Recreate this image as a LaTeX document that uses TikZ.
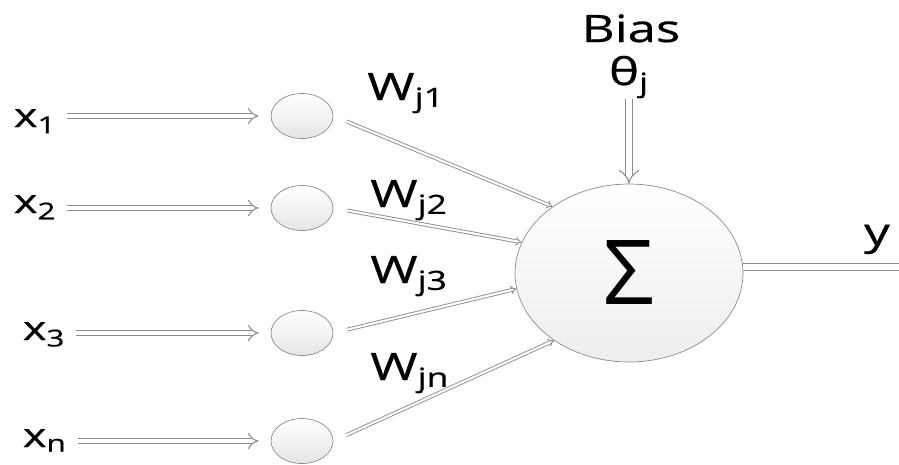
\documentclass[tikz,border=0pt]{standalone}
\usepackage{fontspec}
\setmainfont[FakeStretch=1.35, FakeBold=0.6]{Open Sans}
\newfontfamily\sigmafont{Open Sans}
\usetikzlibrary{arrows.meta, shapes.geometric}
\definecolor{pipeG}{RGB}{140,140,140}

\begin{document}
\begin{tikzpicture}[x=0.02cm, y=-0.02cm,
  inlab/.style={font=\fontsize{19}{22}\selectfont, anchor=base west, inner ysep=0pt, inner xsep=6pt},
  wlab/.style={font=\fontsize{21.5}{24}\selectfont, anchor=base west, inner sep=0pt},
  cell/.style={ellipse, draw=pipeG, top color=white, bottom color=gray!20, minimum width=1.24cm, minimum height=0.9cm, inner sep=0pt},
  feed/.style={draw=pipeG, line width=0.6pt, double=white, double distance=2.6pt, -{Implies[scale=1.3]}, shorten >=0.24cm},
  wire/.style={draw=pipeG, line width=0.5pt, double=white, double distance=1.2pt, -{Implies}, shorten <=0.28cm}]
\useasboundingbox (0,0) rectangle (899,464);
% ===== inputs and their cells =====
\node[cell] (c1) at (302,116) {};
\node[cell] (c2) at (302,208) {};
\node[cell] (c3) at (302,333) {};
\node[cell] (c4) at (302,441) {};
\node[inlab] (x1) at (3,127) {x\textsubscript{1}};
\node[inlab] (x2) at (3,213) {x\textsubscript{2}};
\node[inlab] (x3) at (12,340) {x\textsubscript{3}};
\node[inlab] (xn) at (12,447) {x\textsubscript{n}};
\draw[feed] (x1.east |- c1) -- (c1.west);
\draw[feed] (x2.east |- c2) -- (c2.west);
\draw[feed] (x3.east |- c3) -- (c3.west);
\draw[feed] (xn.east |- c4) -- (c4.west);
% ===== summing unit =====
\node[ellipse, draw=pipeG, top color=white, bottom color=gray!14, minimum width=4.56cm, minimum height=3.56cm, inner sep=0pt,
  font=\sigmafont\fontsize{51}{56}\selectfont] (sum) at (629,273) {Σ};
% weighted connections
\draw[wire] (c1.east) -- (sum.139);
\draw[wire] (c2.east) -- (sum.164);
\draw[wire] (c3.east) -- (sum.188);
\draw[wire] (c4.east) -- (sum.222);
\node[wlab] (w1) at (367,100) {W\textsubscript{j1}};
\node[wlab] (w2) at (370,207) {W\textsubscript{j2}};
\node[wlab] (w3) at (370,283) {W\textsubscript{j3}};
\node[wlab] (wn) at (370,380) {W\textsubscript{jn}};
% ===== bias =====
\node[wlab, anchor=base] (bias) at (631,42) {Bias};
\node[wlab, anchor=base] (theta) at (629,85) {θ\textsubscript{j}};
\draw[draw=pipeG, line width=0.6pt, double=white, double distance=3.6pt, -{Implies}] (theta.south) -- (sum.north);
% ===== output =====
\coordinate (yend) at (899,267);
\draw[draw=pipeG, line width=0.6pt, double=white, double distance=3.4pt] (sum.east |- yend) -- (yend);
\node[wlab, anchor=base] (ylab) at (877,245) {y};
\end{tikzpicture}
\end{document}
